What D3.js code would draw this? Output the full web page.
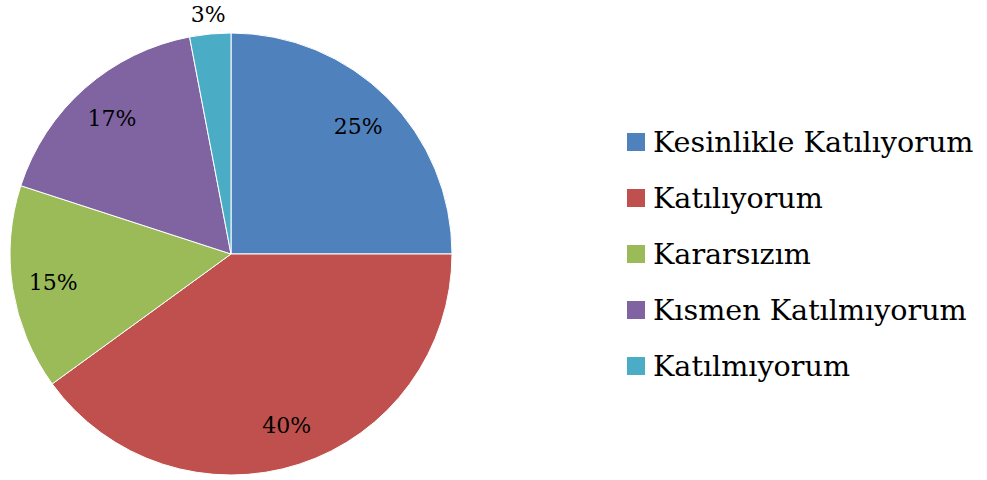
<!DOCTYPE html>
<html>
<head>
<meta charset="utf-8">
<script src="https://cdn.jsdelivr.net/npm/d3@7"></script>
<style>
  body { margin: 0; background: #fff; }
  text { font-family: "DejaVu Serif", "Liberation Serif", serif; }
</style>
</head>
<body>
<svg id="chart" width="987" height="480"></svg>
<script>
// chart data
const categories = ["Kesinlikle Katılıyorum", "Katılıyorum", "Kararsızım", "Kısmen Katılmıyorum", "Katılmıyorum"];
const values = [25, 40, 15, 17, 3];
const colors = ["#4F81BD", "#C0504D", "#9BBB59", "#8064A2", "#4BACC6"];

const svg = d3.select("#chart");
const cx = 231, cy = 254, radius = 221;

const data = categories.map((c, i) => ({ name: c, value: values[i], color: colors[i] }));

const pie = d3.pie().sort(null).value(d => d.value);
const arc = d3.arc().innerRadius(0).outerRadius(radius);
const labelArc = d3.arc().innerRadius(180).outerRadius(180);
const outerArc = d3.arc().innerRadius(241).outerRadius(241);

const g = svg.append("g").attr("transform", `translate(${cx},${cy})`);
const arcs = pie(data);

g.selectAll("path")
  .data(arcs)
  .enter()
  .append("path")
  .attr("d", arc)
  .attr("fill", d => d.data.color)
  .attr("stroke", "#fff")
  .attr("stroke-width", 1);

// percent labels, small slices go outside
g.selectAll("text.pct")
  .data(arcs)
  .enter()
  .append("text")
  .attr("class", "pct")
  .attr("transform", d => `translate(${(d.data.value < 5 ? outerArc : labelArc).centroid(d)})`)
  .attr("text-anchor", "middle")
  .attr("dominant-baseline", "central")
  .style("font-size", "22px")
  .style("fill", "#000")
  .text(d => d.data.value + "%");

// legend
const legend = svg.append("g").attr("transform", "translate(627,142)");
const rows = legend.selectAll("g")
  .data(data)
  .enter()
  .append("g")
  .attr("transform", (d, i) => `translate(0,${i * 56})`);

rows.append("rect")
  .attr("x", 0)
  .attr("y", -9)
  .attr("width", 18)
  .attr("height", 18)
  .attr("fill", d => d.color);

rows.append("text")
  .attr("x", 26)
  .attr("y", 0)
  .attr("dominant-baseline", "central")
  .style("font-size", "28.6px")
  .style("fill", "#000")
  .text(d => d.name);
</script>
</body>
</html>
